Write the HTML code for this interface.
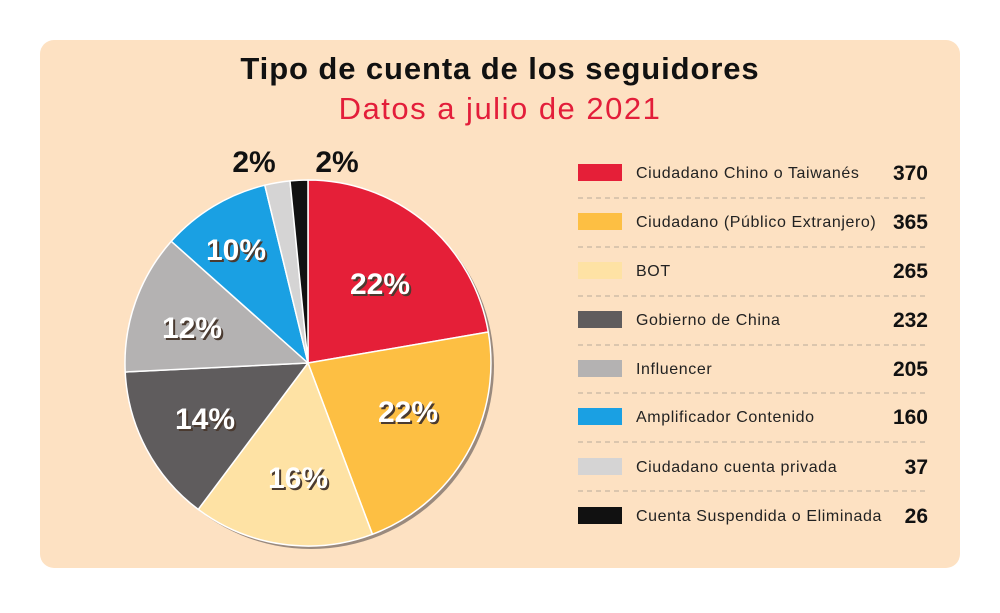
<!DOCTYPE html>
<html><head><meta charset="utf-8"><style>
body{margin:0;background:#fff;width:1000px;height:608px;overflow:hidden;font-family:"Liberation Sans",sans-serif}
</style></head><body>
<svg width="1000" height="608" viewBox="0 0 1000 608" xmlns="http://www.w3.org/2000/svg" font-family="Liberation Sans, sans-serif">
<rect x="40" y="40" width="920" height="528" rx="14" fill="#fde1c2"/>
<text x="500" y="79" text-anchor="middle" font-size="31" font-weight="bold" fill="#111" letter-spacing="0.9">Tipo de cuenta de los seguidores</text>
<text x="500" y="119" text-anchor="middle" font-size="31" fill="#e31e3a" letter-spacing="1.5">Datos a julio de 2021</text>
<circle cx="311" cy="366" r="183" fill="#9a8a7e"/>
<g stroke="#fff" stroke-width="1.5" stroke-linejoin="round">
<path d="M308,363 L308,180 A183,183 0 0 1 488.3,332 Z" fill="#e51f38"/>
<path d="M308,363 L488.3,332 A183,183 0 0 1 372.4,534.3 Z" fill="#fdbf43"/>
<path d="M308,363 L372.4,534.3 A183,183 0 0 1 198.2,509.4 Z" fill="#fee2a4"/>
<path d="M308,363 L198.2,509.4 A183,183 0 0 1 125.2,372 Z" fill="#5f5c5d"/>
<path d="M308,363 L125.2,372 A183,183 0 0 1 171.3,241.3 Z" fill="#b4b2b2"/>
<path d="M308,363 L171.3,241.3 A183,183 0 0 1 264.8,185.2 Z" fill="#1aa0e3"/>
<path d="M308,363 L264.8,185.2 A183,183 0 0 1 290,180.9 Z" fill="#d5d4d4"/>
<path d="M308,363 L290,180.9 A183,183 0 0 1 308,180 Z" fill="#111"/>
</g>
<g font-size="30" font-weight="bold" text-anchor="middle">
<g fill="#4a3a30" transform="translate(2,2)">
<text x="380" y="294">22%</text><text x="408" y="422">22%</text><text x="298" y="488">16%</text>
<text x="205" y="429">14%</text><text x="192" y="338">12%</text><text x="236" y="260">10%</text>
</g>
<g fill="#fff">
<text x="380" y="294">22%</text><text x="408" y="422">22%</text><text x="298" y="488">16%</text>
<text x="205" y="429">14%</text><text x="192" y="338">12%</text><text x="236" y="260">10%</text>
</g>
<text x="254" y="172" fill="#111">2%</text><text x="337" y="172" fill="#111">2%</text>
</g>
<g font-size="16" fill="#222" letter-spacing="0.6">
<rect x="578" y="164" width="44" height="17" fill="#e51f38"/><text x="636" y="178">Ciudadano Chino o Taiwanés</text>
<rect x="578" y="213" width="44" height="17" fill="#fdbf43"/><text x="636" y="227">Ciudadano (Público Extranjero)</text>
<rect x="578" y="262" width="44" height="17" fill="#fee2a4"/><text x="636" y="276">BOT</text>
<rect x="578" y="311" width="44" height="17" fill="#5f5c5d"/><text x="636" y="325">Gobierno de China</text>
<rect x="578" y="360" width="44" height="17" fill="#b4b2b2"/><text x="636" y="374">Influencer</text>
<rect x="578" y="408" width="44" height="17" fill="#1aa0e3"/><text x="636" y="422">Amplificador Contenido</text>
<rect x="578" y="458" width="44" height="17" fill="#d5d4d4"/><text x="636" y="472">Ciudadano cuenta privada</text>
<rect x="578" y="507" width="44" height="17" fill="#111"/><text x="636" y="521">Cuenta Suspendida o Eliminada</text>
</g>
<g font-size="21" font-weight="bold" fill="#111" text-anchor="end">
<text x="928" y="180">370</text><text x="928" y="229">365</text><text x="928" y="278">265</text><text x="928" y="327">232</text>
<text x="928" y="376">205</text><text x="928" y="424">160</text><text x="928" y="474">37</text><text x="928" y="523">26</text>
</g>
<g stroke="#b9aa9a" stroke-width="1" stroke-dasharray="5,4">
<line x1="578" y1="198" x2="928" y2="198"/><line x1="578" y1="247" x2="928" y2="247"/>
<line x1="578" y1="296" x2="928" y2="296"/><line x1="578" y1="345" x2="928" y2="345"/>
<line x1="578" y1="393" x2="928" y2="393"/><line x1="578" y1="442" x2="928" y2="442"/>
<line x1="578" y1="491" x2="928" y2="491"/>
</g>
</svg>
</body></html>
